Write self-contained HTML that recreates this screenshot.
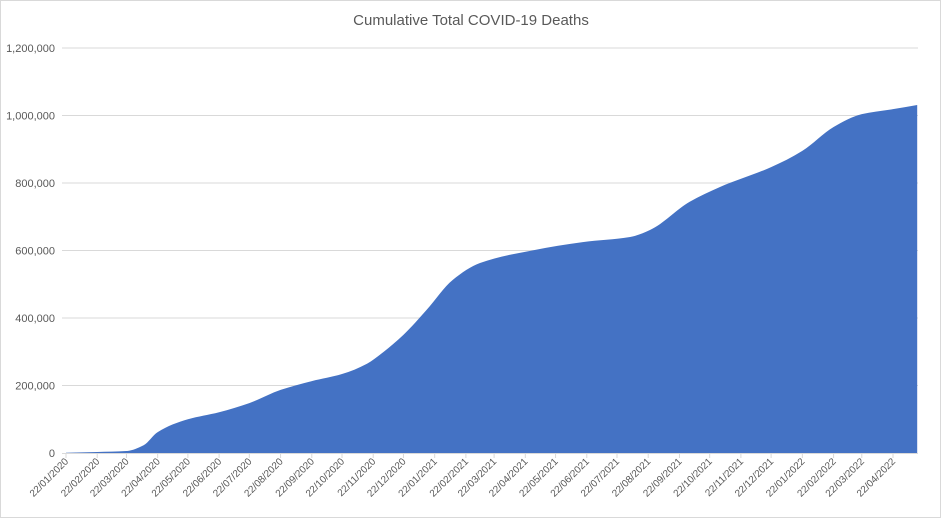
<!DOCTYPE html>
<html><head><meta charset="utf-8">
<style>
html,body{margin:0;padding:0;background:#fff;}
svg{display:block;font-family:"Liberation Sans",sans-serif;}
</style></head>
<body>
<svg id="chart" width="943" height="520" xmlns="http://www.w3.org/2000/svg">
<rect x="0.5" y="0.5" width="940" height="517" fill="#fff" stroke="#d9d9d9"/>
<text x="471" y="25" text-anchor="middle" font-size="15" fill="#595959">Cumulative Total COVID-19 Deaths</text>
<g id="grid"></g><g id="area"></g><g id="xaxis"></g><g id="yaxis"></g>
</svg>
<script>
const dates = ["2020-01-22","2020-02-22","2020-03-22","2020-04-08","2020-04-22","2020-05-22","2020-06-22","2020-07-22","2020-08-22","2020-09-22","2020-10-22","2020-11-16","2020-12-02","2020-12-22","2021-01-14","2021-02-09","2021-03-08","2021-04-30","2021-06-18","2021-08-04","2021-08-24","2021-10-02","2021-11-01","2021-12-22","2022-01-22","2022-02-22","2022-03-22","2022-04-22","2022-05-16"];
const deaths = [1000,3000,6000,23000,62000,100000,121000,148000,187000,213000,234000,265000,299000,350000,424000,513000,563000,601000,625000,640000,661000,744000,788000,847000,895000,966000,1004000,1019000,1031000];
const xTickLabels = ["22/01/2020","22/02/2020","22/03/2020","22/04/2020","22/05/2020","22/06/2020","22/07/2020","22/08/2020","22/09/2020","22/10/2020","22/11/2020","22/12/2020","22/01/2021","22/02/2021","22/03/2021","22/04/2021","22/05/2021","22/06/2021","22/07/2021","22/08/2021","22/09/2021","22/10/2021","22/11/2021","22/12/2021","22/01/2022","22/02/2022","22/03/2022","22/04/2022"];
const yTicks = [0,200000,400000,600000,800000,1000000,1200000];

const NS="http://www.w3.org/2000/svg";
const t0=Date.UTC(2020,0,22), DAY=86400000;
const x0=66, pxPerDay=(893-66)/821, y0=453, yTop=48, yMax=1200000;
function dayOf(s){const p=s.split("-");return (Date.UTC(+p[0],+p[1]-1,+p[2])-t0)/DAY;}
function X(d){return x0+d*pxPerDay;}
function Y(v){return y0-(v/yMax)*(y0-yTop);}
function mk(tag,attrs,parent){const e=document.createElementNS(NS,tag);for(const k in attrs)e.setAttribute(k,attrs[k]);parent.appendChild(e);return e;}

const grid=document.getElementById("grid"), ya=document.getElementById("yaxis");
yTicks.forEach(v=>{
  if(v>0){const l=mk("line",{x1:62,x2:918,y1:Y(v),y2:Y(v),stroke:"#d9d9d9","stroke-width":1},grid);
  
  }
  const t=mk("text",{x:55,y:Y(v)+4,"text-anchor":"end","font-size":11,fill:"#595959"},ya);
  t.textContent=v.toLocaleString("en-US");
  
  
});

// monotone cubic path through points
const px=dates.map(s=>X(dayOf(s))), py=deaths.map(v=>Y(v));
const n=px.length, dx=[], sl=[], m=new Array(n);
for(let i=0;i<n-1;i++){dx.push(px[i+1]-px[i]);sl.push((py[i+1]-py[i])/(px[i+1]-px[i]));}
m[0]=sl[0];m[n-1]=sl[n-2];
for(let i=1;i<n-1;i++){m[i]=(sl[i-1]*sl[i]<=0)?0:3*(dx[i-1]+dx[i])/((2*dx[i]+dx[i-1])/sl[i-1]+(dx[i]+2*dx[i-1])/sl[i]);}
let d="M"+px[0].toFixed(1)+","+y0+" L"+px[0].toFixed(1)+","+py[0].toFixed(1);
for(let i=0;i<n-1;i++){const h=dx[i]/3;
  d+=` C${(px[i]+h).toFixed(1)},${(py[i]+m[i]*h).toFixed(1)} ${(px[i+1]-h).toFixed(1)},${(py[i+1]-m[i+1]*h).toFixed(1)} ${px[i+1].toFixed(1)},${py[i+1].toFixed(1)}`;}
d+=" L"+px[n-1].toFixed(1)+","+y0+" Z";
const area=mk("path",{d:d,fill:"#4472c4"},document.getElementById("area"));



const xa=document.getElementById("xaxis");
const ax=mk("line",{x1:62,x2:918,y1:y0+0.5,y2:y0+0.5,stroke:"#d9d9d9"},xa);


xTickLabels.forEach(lab=>{
  const p=lab.split("/");const dd=(Date.UTC(+p[2],+p[1]-1,+p[0])-t0)/DAY;const x=X(dd);
  const tk=mk("line",{x1:x,x2:x,y1:y0,y2:y0+5,stroke:"#d9d9d9"},xa);
  
  
  const t=mk("text",{x:x+3,y:y0+9,"text-anchor":"end","font-size":10,fill:"#595959",transform:`rotate(-45 ${x+3} ${y0+9})`},xa);
  t.textContent=lab;
  
  
});
</script>
</body></html>
